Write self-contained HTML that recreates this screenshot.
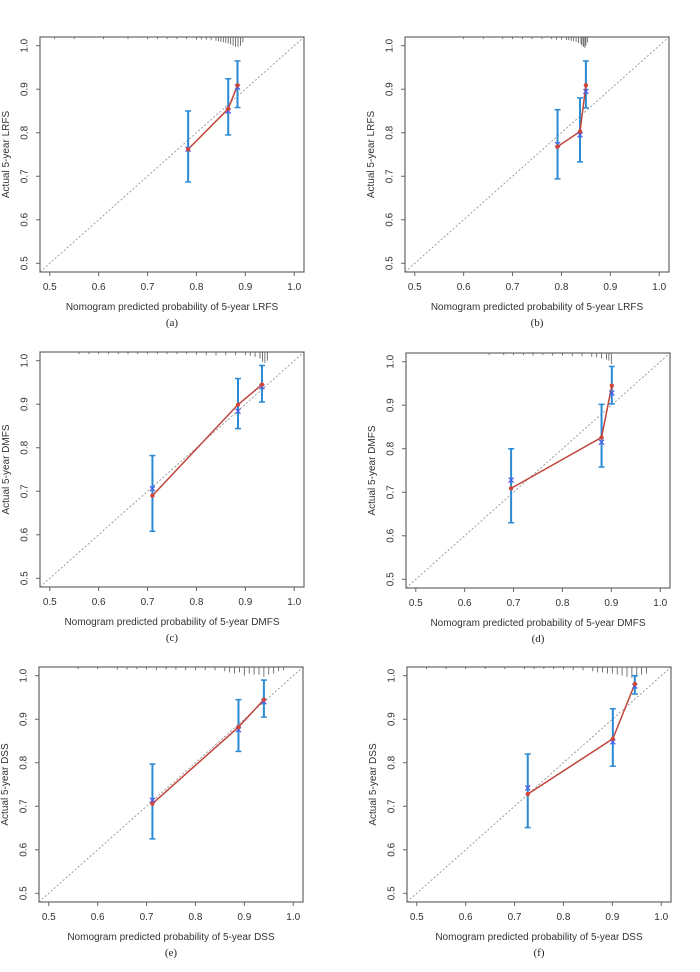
<!DOCTYPE html>
<html><head><meta charset="utf-8">
<style>
body{margin:0;background:#fff;}
svg{display:block;font-family:"Liberation Sans",Arial,sans-serif;}
</style></head>
<body>
<svg id="chart" width="700" height="972" viewBox="0 0 700 972" xmlns="http://www.w3.org/2000/svg"></svg>
<script>
// ---- data ----
const panelIds = ['a','b','c','d','e','f'];
const panelLabels = ['LRFS','LRFS','DMFS','DMFS','DSS','DSS'];
const predA = [0.783,0.865,0.884], obsA = [0.762,0.855,0.909], corA = [0.762,0.850,0.905], loA = [0.687,0.795,0.858], hiA = [0.850,0.924,0.965];
const predB = [0.792,0.838,0.850], obsB = [0.768,0.803,0.909], corB = [0.773,0.795,0.895], loB = [0.694,0.733,0.857], hiB = [0.853,0.880,0.965];
const predC = [0.710,0.885,0.934], obsC = [0.690,0.899,0.945], corC = [0.706,0.884,0.940], loC = [0.608,0.844,0.905], hiC = [0.782,0.959,0.989];
const predD = [0.695,0.880,0.901], obsD = [0.709,0.826,0.945], corD = [0.728,0.815,0.928], loD = [0.630,0.758,0.903], hiD = [0.800,0.902,0.989];
const predE = [0.712,0.888,0.940], obsE = [0.706,0.882,0.945], corE = [0.714,0.876,0.940], loE = [0.625,0.826,0.905], hiE = [0.797,0.945,0.990];
const predF = [0.727,0.901,0.946], obsF = [0.728,0.855,0.981], corF = [0.742,0.848,0.976], loF = [0.651,0.792,0.958], hiF = [0.820,0.924,1.000];
// rug: predicted values and relative frequency (0..1)
const rugXA = [0.51,0.55,0.61,0.66,0.70,0.72,0.74,0.76,0.78,0.80,0.81,0.82,0.83,0.84,0.845,0.85,0.855,0.86,0.865,0.87,0.875,0.88,0.885,0.89,0.895];
const rugHA = [0.1,0.1,0.1,0.1,0.1,0.1,0.1,0.1,0.1,0.15,0.15,0.15,0.2,0.25,0.3,0.35,0.4,0.45,0.5,0.6,0.7,0.8,0.8,0.7,0.4];
const rugXB = [0.60,0.64,0.68,0.70,0.72,0.74,0.76,0.78,0.79,0.80,0.81,0.815,0.82,0.825,0.83,0.835,0.84,0.842,0.845,0.848,0.85,0.853];
const rugHB = [0.1,0.1,0.1,0.1,0.1,0.1,0.1,0.1,0.15,0.15,0.2,0.2,0.25,0.3,0.35,0.45,0.55,0.7,0.8,0.9,0.7,0.4];
const rugXC = [0.56,0.58,0.60,0.62,0.64,0.66,0.68,0.70,0.72,0.74,0.76,0.78,0.80,0.82,0.84,0.86,0.88,0.90,0.91,0.92,0.93,0.935,0.94,0.945];
const rugHC = [0.1,0.1,0.1,0.1,0.1,0.1,0.1,0.1,0.1,0.1,0.1,0.1,0.15,0.2,0.2,0.2,0.2,0.2,0.25,0.35,0.5,0.8,0.9,0.7];
const rugXD = [0.65,0.68,0.70,0.72,0.74,0.76,0.78,0.80,0.82,0.84,0.86,0.87,0.88,0.89,0.895,0.90];
const rugHD = [0.1,0.1,0.1,0.1,0.15,0.1,0.15,0.15,0.2,0.2,0.25,0.3,0.4,0.5,0.6,0.9];
const rugXE = [0.56,0.60,0.64,0.66,0.68,0.70,0.72,0.74,0.76,0.78,0.80,0.82,0.84,0.86,0.87,0.88,0.89,0.90,0.91,0.92,0.93,0.94,0.95,0.96,0.97,0.98];
const rugHE = [0.1,0.1,0.15,0.15,0.1,0.15,0.2,0.15,0.15,0.2,0.2,0.2,0.2,0.3,0.4,0.5,0.4,0.7,0.5,0.6,0.6,0.8,0.6,0.5,0.3,0.2];
const rugXF = [0.52,0.56,0.60,0.64,0.68,0.72,0.74,0.76,0.78,0.80,0.82,0.84,0.86,0.87,0.88,0.89,0.90,0.91,0.92,0.93,0.94,0.95,0.96,0.97];
const rugHF = [0.1,0.1,0.1,0.1,0.1,0.1,0.1,0.1,0.1,0.15,0.2,0.2,0.3,0.4,0.4,0.5,0.5,0.6,0.7,0.8,0.9,0.8,0.6,0.5];
const tickValues = [0.5,0.6,0.7,0.8,0.9,1.0];
const tickLabels = ['0.5','0.6','0.7','0.8','0.9','1.0'];

const series = [
 {p:predA,o:obsA,c:corA,lo:loA,hi:hiA,rx:rugXA,rh:rugHA},
 {p:predB,o:obsB,c:corB,lo:loB,hi:hiB,rx:rugXB,rh:rugHB},
 {p:predC,o:obsC,c:corC,lo:loC,hi:hiC,rx:rugXC,rh:rugHC},
 {p:predD,o:obsD,c:corD,lo:loD,hi:hiD,rx:rugXD,rh:rugHD},
 {p:predE,o:obsE,c:corE,lo:loE,hi:hiE,rx:rugXE,rh:rugHE},
 {p:predF,o:obsF,c:corF,lo:loF,hi:hiF,rx:rugXF,rh:rugHF}
];
const boxes = [[40,37],[405,37],[40,352],[406,353],[39,667],[407,667]];
const BW=264, BH=235, D0=0.48, D1=1.02;

const svg=document.getElementById('chart');
const NS='http://www.w3.org/2000/svg';
function mk(tag,attrs,parent){const e=document.createElementNS(NS,tag);for(const k in attrs)e.setAttribute(k,attrs[k]);parent.appendChild(e);return e;}

series.forEach((s,i)=>{
  const [L,T]=boxes[i];
  const xs=v=>L+(v-D0)/(D1-D0)*BW;
  const ys=v=>T+BH-(v-D0)/(D1-D0)*BH;
  const g=mk('g',{},svg);
  
  
  const dg=mk('line',{x1:xs(D0),y1:ys(D0),x2:xs(D1),y2:ys(D1),stroke:'#888','stroke-width':0.8,'stroke-dasharray':'2,2'},g);
  
  
  const rg=mk('g',{},g);
  
  
  s.rx.forEach((v,j)=>{mk('line',{x1:xs(v),x2:xs(v),y1:T,y2:T+1+s.rh[j]*11,stroke:'#555','stroke-width':0.8},rg);});
  s.p.forEach((v,j)=>{
    const eg=mk('g',{stroke:'#2a8ad4','stroke-width':2},g);
    
    
    mk('line',{x1:xs(v),x2:xs(v),y1:ys(s.lo[j]),y2:ys(s.hi[j])},eg);
    mk('line',{x1:xs(v)-3,x2:xs(v)+3,y1:ys(s.lo[j]),y2:ys(s.lo[j]),'stroke-width':1.5},eg);
    mk('line',{x1:xs(v)-3,x2:xs(v)+3,y1:ys(s.hi[j]),y2:ys(s.hi[j]),'stroke-width':1.5},eg);
  });
  const pl=mk('polyline',{points:s.p.map((v,j)=>xs(v)+','+ys(s.o[j])).join(' '),fill:'none',stroke:'#c0443a','stroke-width':1.5},g);
  
  
  s.p.forEach((v,j)=>{
    const cx=xs(v), cy=ys(s.c[j]);
    const bx=mk('path',{d:`M${cx-2.5},${cy-2.5}L${cx+2.5},${cy+2.5}M${cx-2.5},${cy+2.5}L${cx+2.5},${cy-2.5}`,stroke:'#4a5ee8','stroke-width':1.2},g);
    
    
    const rp=mk('circle',{cx:cx,cy:ys(s.o[j]),r:2.2,fill:'#d0463a'},g);
    
    
  });
  const fr=mk('rect',{x:L,y:T,width:BW,height:BH,fill:'none',stroke:'#666','stroke-width':1.2},g);
  
  
  tickValues.forEach((v,j)=>{
    mk('line',{x1:xs(v),x2:xs(v),y1:T+BH,y2:T+BH+4,stroke:'#666'},g);
    const tx=mk('text',{x:xs(v),y:T+BH+18,'font-size':10,fill:'#333','text-anchor':'middle'},g);
    tx.textContent=tickLabels[j];
    
    
    mk('line',{x1:L,x2:L-4,y1:ys(v),y2:ys(v),stroke:'#666'},g);
    const ty=mk('text',{x:L-15,y:ys(v),'font-size':10,fill:'#333','text-anchor':'middle','dominant-baseline':'central',transform:`rotate(-90 ${L-15} ${ys(v)})`},g);
    ty.textContent=tickLabels[j];
    
    
  });
  const xl=mk('text',{x:L+BW/2,y:T+BH+38,'font-size':10,fill:'#333','text-anchor':'middle'},g);
  xl.textContent='Nomogram predicted probability of 5-year '+panelLabels[i];
  
  
  const yx=L-31, yy=T+BH/2;
  const yl=mk('text',{x:yx,y:yy,'font-size':10,fill:'#333','text-anchor':'middle',transform:`rotate(-90 ${yx} ${yy})`},g);
  yl.textContent='Actual 5-year '+panelLabels[i];
  
  
  const cp=mk('text',{x:L+BW/2,y:T+BH+54,'font-size':11,fill:'#222','text-anchor':'middle','font-family':'Liberation Serif, serif'},g);
  cp.textContent='('+panelIds[i]+')';
  
  
});
</script>
</body></html>
